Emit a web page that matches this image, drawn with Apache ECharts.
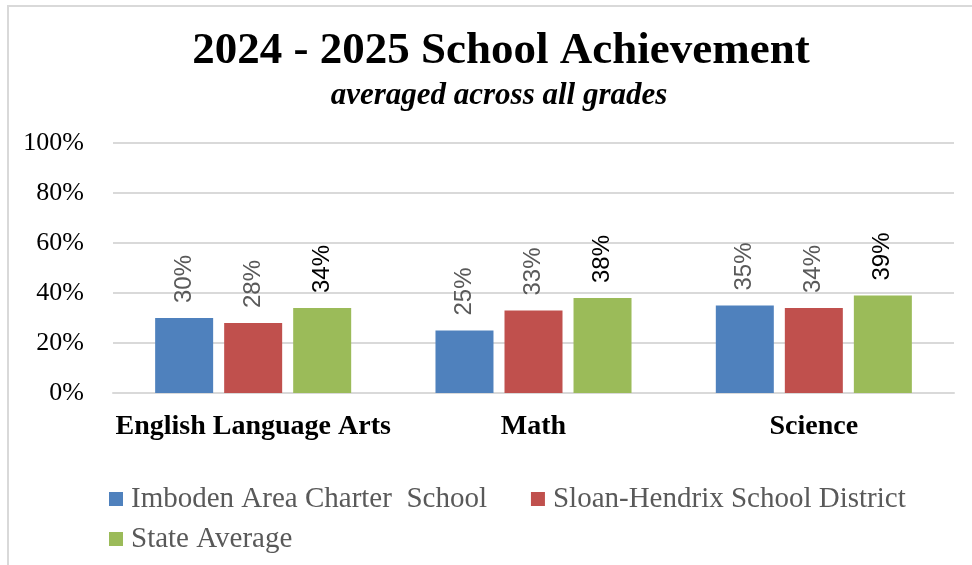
<!DOCTYPE html>
<html>
<head>
    <meta charset="UTF-8">
    <title>2024 - 2025 School Achievement</title>
    <script src="https://cdn.jsdelivr.net/npm/echarts@6/dist/echarts.min.js"></script>
    <style>
        html, body {
            margin: 0;
            padding: 0;
            background: #fff;
        }
        .frame {
            position: absolute;
            left: 7px;
            top: 5px;
            width: 1000px;
            height: 600px;
            border-left: 2px solid #d9d9d9;
            border-top: 2px solid #d9d9d9;
        }
        #main {
            position: absolute;
            left: 0;
            top: 0;
            width: 972px;
            height: 565px;
        }
    </style>
</head>
<body>
<div class="frame"></div>
<div id="main"></div>
<script type="text/javascript">
    // data
    var categories = ['English Language Arts', 'Math', 'Science'];
    var seriesNames = ['Imboden Area Charter  School', 'Sloan-Hendrix School District', 'State Average'];
    var imboden = [30, 25, 35];
    var sloan = [28, 33, 34];
    var state = [34, 38, 39];
    var yTicks = [0, 20, 40, 60, 80, 100];

    var colors = ['#4F81BD', '#C0504D', '#9BBB59'];
    var labelColors = ['#595959', '#595959', '#000000'];
    var serif = '"Liberation Serif", "DejaVu Serif", serif';

    function makeSeries(name, data, i) {
        return {
            name: name,
            type: 'bar',
            data: data,
            barWidth: 58,
            barGap: '19%',
            itemStyle: { color: colors[i] },
            label: {
                show: true,
                position: 'top',
                rotate: 90,
                align: 'left',
                verticalAlign: 'middle',
                distance: 15,
                formatter: '{c}%',
                color: labelColors[i],
                fontFamily: '"Liberation Sans", Arial, sans-serif',
                fontSize: 24
            }
        };
    }

    var myChart = echarts.init(document.getElementById('main'));
    var option = {
        backgroundColor: 'transparent',
        animation: false,
        title: [{
            text: '2024 - 2025 School Achievement',
            left: 496,
            top: 24,
            textAlign: 'center',
            textStyle: { fontFamily: serif, fontWeight: 'bold', fontSize: 45, color: '#000' }
        }, {
            text: 'averaged across all grades',
            left: 494,
            top: 75,
            textAlign: 'center',
            textStyle: { fontFamily: serif, fontWeight: 'bold', fontStyle: 'italic', fontSize: 31, color: '#000' }
        }],
        grid: {
            left: 113,
            right: 18,
            top: 143,
            bottom: 172,
            containLabel: false
        },
        legend: {
            data: seriesNames,
            left: 104,
            top: 479,
            width: 850,
            itemWidth: 14,
            itemHeight: 14,
            itemGap: 10,
            icon: 'rect',
            textStyle: {
                fontFamily: serif,
                fontSize: 29,
                lineHeight: 30,
                color: '#595959',
                padding: [0, 34, 0, 3]
            }
        },
        xAxis: {
            type: 'category',
            data: categories,
            axisTick: { show: false },
            axisLine: { show: true, lineStyle: { color: '#d9d9d9', width: 2 } },
            axisLabel: {
                interval: 0,
                margin: 20,
                color: '#000',
                fontFamily: serif,
                fontWeight: 'bold',
                fontSize: 28
            }
        },
        yAxis: {
            type: 'value',
            min: yTicks[0],
            max: yTicks[yTicks.length - 1],
            interval: 20,
            axisLine: { show: false },
            axisTick: { show: false },
            splitLine: { lineStyle: { color: '#d9d9d9', width: 2 } },
            axisLabel: {
                formatter: '{value}%',
                margin: 29,
                color: '#000',
                fontFamily: serif,
                fontSize: 26
            }
        },
        series: [
            makeSeries(seriesNames[0], imboden, 0),
            makeSeries(seriesNames[1], sloan, 1),
            makeSeries(seriesNames[2], state, 2)
        ]
    };
    myChart.setOption(option);
</script>
</body>
</html>
